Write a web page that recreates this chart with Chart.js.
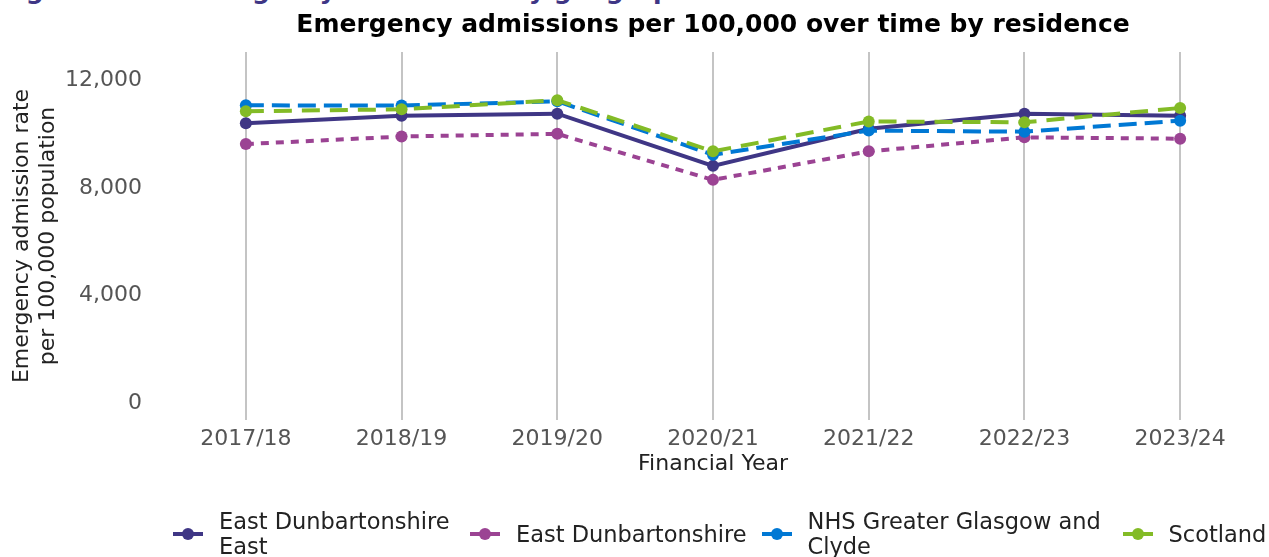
<!DOCTYPE html>
<html>
<head>
<meta charset="utf-8">
<script src="https://cdn.jsdelivr.net/npm/chart.js@4.4.1/dist/chart.umd.min.js"></script>
<style>
  html, body { margin: 0; padding: 0; background: #fff; }
  body { width: 1269px; height: 557px; position: relative; overflow: hidden; font-family: "DejaVu Sans", sans-serif; }
  #chart { position: absolute; left: 0; top: 0; }
  #heading { position: absolute; left: 0; top: -24px; margin: 0; font: bold 25px "DejaVu Sans"; line-height: 30px; color: #3f3685; white-space: nowrap; }
  #legend { position: absolute; left: 173px; top: 509px; height: 50px; width: 1300px; display: flex; align-items: center; font-size: 22.5px; line-height: 25px; color: #222; }
  .item { display: flex; align-items: center; margin-right: 15px; flex: none; }
  .item span { white-space: nowrap; }
  .item span.wrap { white-space: normal; }
  .sym { position: relative; width: 30px; height: 12px; margin-right: 16px; flex: none; }
  .sym .ln { position: absolute; left: 0; right: 0; top: 4px; height: 4px; }
  .sym .dot { position: absolute; left: 9px; top: 0; width: 12px; height: 12px; border-radius: 50%; }
</style>
</head>
<body>
<div id="heading">Figure 10.1: Emergency admissions by geographical area</div>
<canvas id="chart" width="1269" height="557"></canvas>
<div id="legend"></div>
<script>
const years = ["2017/18", "2018/19", "2019/20", "2020/21", "2021/22", "2022/23", "2023/24"];

const eastDunEast = [10400, 10680, 10760, 8820, 10200, 10760, 10680];
const eastDun     = [9630, 9910, 10010, 8300, 9360, 9880, 9830];
const nhsGgc      = [11070, 11060, 11220, 9230, 10130, 10090, 10500];
const scotland    = [10850, 10920, 11260, 9360, 10470, 10440, 10970];

const seriesNames = ["East Dunbartonshire East", "East Dunbartonshire", "NHS Greater Glasgow and Clyde", "Scotland"];
const yTicks = [0, 4000, 8000, 12000];

const COLORS = ["#3f3685", "#9b4393", "#0078d4", "#83bb26"];
const DASHES = [[], [8, 7], [18, 8], [18, 10]];
const legendMaxWidth = [236, 0, 300, 0];
const FONT = "'DejaVu Sans', sans-serif";

const seriesValues = [eastDunEast, eastDun, nhsGgc, scotland];

const datasets = seriesValues.map((vals, i) => ({
  label: seriesNames[i],
  data: vals,
  borderColor: COLORS[i],
  backgroundColor: COLORS[i],
  borderWidth: 4,
  borderDash: DASHES[i],
  pointRadius: 6,
  pointBorderWidth: 0,
  pointBackgroundColor: COLORS[i],
  tension: 0,
  fill: false,
  order: 3 - i
}));

new Chart(document.getElementById("chart"), {
  type: "line",
  data: { labels: years, datasets: datasets },
  options: {
    responsive: false,
    animation: false,
    layout: { padding: { top: 10, right: 11, bottom: 82, left: 0 } },
    plugins: {
      legend: { display: false },
      tooltip: { enabled: false },
      title: {
        display: true,
        fullSize: false,
        text: "Emergency admissions per 100,000 over time by residence",
        color: "#000",
        font: { family: FONT, size: 25, weight: "bold", lineHeight: 1.2 },
        padding: { top: 0, bottom: 12 }
      }
    },
    scales: {
      x: {
        offset: true,
        grid: { color: "#c4c4c4", lineWidth: 2, drawTicks: false },
        border: { display: false },
        ticks: { color: "#555", font: { family: FONT, size: 22, lineHeight: 1 }, padding: 8, maxRotation: 0 },
        title: { display: true, text: "Financial Year", color: "#222", font: { family: FONT, size: 22, lineHeight: 1 }, padding: { top: -5, bottom: 0 } }
      },
      y: {
        min: -620,
        max: 13050,
        afterBuildTicks: s => { s.ticks = yTicks.map(v => ({ value: v })); },
        afterFit: s => { s.width = 168; },
        grid: { display: false, drawTicks: false },
        border: { display: false },
        ticks: { color: "#555", font: { family: FONT, size: 22 }, padding: 26, callback: v => v.toLocaleString("en-GB") },
        title: {
          display: true,
          text: ["Emergency admission rate", "per 100,000 population"],
          color: "#222",
          font: { family: FONT, size: 22, lineHeight: 1.15 },
          padding: { top: 10, bottom: 0 }
        }
      }
    }
  }
});

// legend drawn as html so the long names can wrap like the original
const legend = document.getElementById("legend");
seriesNames.forEach((name, i) => {
  const item = document.createElement("div");
  item.className = "item";
  item.innerHTML = '<div class="sym"><div class="ln" style="background:' + COLORS[i] + '"></div>' +
    '<div class="dot" style="background:' + COLORS[i] + '"></div></div>';
  const txt = document.createElement("span");
  txt.textContent = name;
  if (legendMaxWidth[i]) {
    txt.className = "wrap";
    txt.style.maxWidth = legendMaxWidth[i] + "px";
  }
  item.appendChild(txt);
  legend.appendChild(item);
});
</script>
</body>
</html>
